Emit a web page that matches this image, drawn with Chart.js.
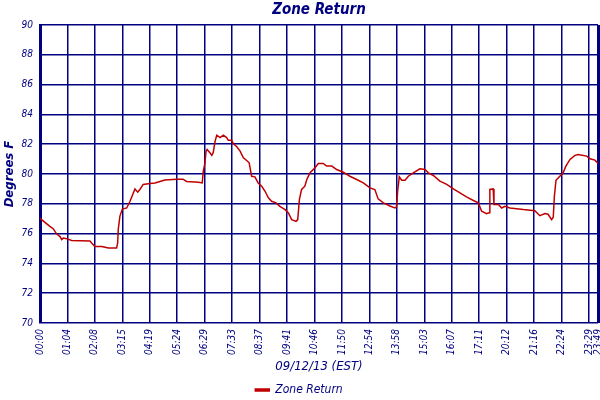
<!DOCTYPE html>
<html>
<head>
<meta charset="utf-8">
<script src="https://cdn.jsdelivr.net/npm/chart.js@4.4.1/dist/chart.umd.min.js"></script>
<style>
  html, body { margin: 0; padding: 0; background: #fff; }
  #wrap { width: 600px; height: 400px; }
</style>
</head>
<body>
<div id="wrap"><canvas id="zoneChart"></canvas></div>
<script>
// sample position (10 samples per labelled interval) and temperature
const sampleIdx = [0, 0.6, 1.8, 3.6, 4.8, 6.1, 7.3, 7.9, 8.5, 9.7, 11.5, 18.2, 18.8, 20.0, 22.5, 24.9, 27.9, 28.3, 28.5, 29.1,
    30.0, 31.6, 32.8, 34.0, 34.6, 35.6, 36.4, 37.6, 40.1, 41.9, 43.7, 45.5, 49.8, 52.1, 53.4, 57.7, 59.1, 59.5, 60.1, 60.5,
    60.9, 61.9, 62.6, 63.1, 63.8, 64.4, 65.6, 66.8, 68.0, 68.6, 69.8, 70.4, 71.7, 72.9, 74.1, 75.3, 76.2, 77.1, 78.3, 79.5,
    80.8, 82.0, 83.2, 84.4, 86.0, 87.4, 89.3, 90.5, 91.7, 93.3, 93.9, 94.5, 95.3, 96.5, 97.2, 98.4, 100.2, 101.4, 103.2, 104.4,
    106.3, 108.1, 110.5, 112.9, 115.4, 117.8, 120.2, 122.0, 123.2, 125.1, 127.5, 129.3, 129.9, 130.3, 130.9, 131.8, 133.0, 134.2, 136.0, 138.4,
    140.3, 141.5, 143.3, 145.7, 148.2, 150.6, 153.0, 155.4, 157.9, 159.7, 160.9, 162.7, 163.6, 163.9, 165.1, 165.4, 167.0, 168.2, 169.4, 171.2,
    176.1, 180.3, 182.1, 184.0, 185.1, 186.4, 187.0, 187.4, 188.0, 189.4, 190.6, 191.6, 193.1, 194.9, 196.1, 199.2, 200.4, 202.2, 203.3];
const tempF = [77.05, 76.94, 76.75, 76.49, 76.33, 75.97, 75.8, 75.6, 75.7, 75.66, 75.54, 75.5, 75.37, 75.14, 75.14, 75.03, 75.03, 75.37, 76.26, 77.16,
    77.65, 77.72, 78.17, 78.73, 79.0, 78.78, 78.96, 79.3, 79.36, 79.4, 79.5, 79.6, 79.65, 79.65, 79.5, 79.45, 79.4, 80.19, 80.75, 81.54,
    81.65, 81.43, 81.25, 81.43, 82.21, 82.6, 82.44, 82.6, 82.44, 82.26, 82.26, 82.05, 81.83, 81.54, 81.09, 80.91, 80.75, 79.85, 79.81, 79.4,
    79.18, 78.84, 78.4, 78.17, 78.06, 77.83, 77.61, 77.39, 76.94, 76.82, 76.94, 78.28, 78.96, 79.18, 79.63, 80.08, 80.42, 80.71, 80.71, 80.53,
    80.53, 80.3, 80.12, 79.85, 79.63, 79.4, 79.07, 78.96, 78.33, 78.06, 77.85, 77.72, 77.8, 78.84, 79.81, 79.58, 79.58, 79.85, 80.08, 80.35,
    80.3, 80.08, 79.9, 79.52, 79.3, 79.0, 78.73, 78.46, 78.22, 78.06, 77.5, 77.34, 77.4, 78.96, 79.0, 77.95, 77.95, 77.72, 77.83, 77.72,
    77.61, 77.54, 77.2, 77.34, 77.3, 76.94, 77.1, 78.5, 79.58, 79.85, 80.08, 80.53, 80.98, 81.25, 81.31, 81.2, 81.02, 80.93, 80.71];

// x axis labels and the sample positions they sit at
const timeLabels = ['00:00', '01:04', '02:08', '03:15', '04:19', '05:24', '06:29', '07:33', '08:37', '09:41', '10:46',
    '11:50', '12:54', '13:58', '15:03', '16:07', '17:11', '20:12', '21:16', '22:24', '23:29', '23:49'];
const tickIdx = [0, 10, 20, 30, 40, 50, 60, 70, 80, 90, 100, 110, 120, 130, 140, 150, 160, 170, 180, 190, 200, 203.3];

const navy = '#000080';
const red = '#c00000';
const condensed = '"DejaVu Sans Condensed", "DejaVu Sans", sans-serif';

const points = sampleIdx.map((x, i) => ({ x: x, y: tempF[i] }));

const ctx = document.getElementById('zoneChart').getContext('2d');
new Chart(ctx, {
    type: 'line',
    data: {
        datasets: [{
            label: 'Zone Return',
            data: points,
            borderColor: red,
            backgroundColor: red,
            borderWidth: 1.5,
            pointRadius: 0,
            tension: 0
        }]
    },
    options: {
        responsive: true,
        maintainAspectRatio: false,
        animation: false,
        // legend sits a little past the bottom edge so its text lands where the original has it
        layout: { padding: { left: 0, right: 2, top: 0, bottom: -6 } },
        plugins: {
            title: {
                display: true,
                text: 'Zone Return',
                color: navy,
                fullSize: false,
                font: { family: condensed, size: 15, weight: 'bold', style: 'italic' },
                padding: { top: 1, bottom: 6 }
            },
            legend: {
                position: 'bottom',
                labels: {
                    color: navy,
                    boxWidth: 14,
                    boxHeight: 2,
                    padding: 5,
                    font: { family: condensed, size: 12, style: 'italic' }
                }
            },
            tooltip: { enabled: false }
        },
        scales: {
            x: {
                type: 'linear',
                min: 0,
                max: 203.3,
                afterBuildTicks: scale => {
                    scale.ticks = tickIdx.map(v => ({ value: v }));
                },
                afterFit: scale => {
                    scale.height = 56;
                    scale.paddingRight = 0;
                },
                ticks: {
                    autoSkip: false,
                    minRotation: 90,
                    maxRotation: 90,
                    padding: 6,
                    color: navy,
                    font: { family: condensed, size: 10, style: 'italic' },
                    callback: (value, i) => timeLabels[i]
                },
                grid: {
                    color: navy,
                    drawTicks: false,
                    lineWidth: c => (c.index === tickIdx.length - 1 ? 3 : 1.5)
                },
                border: { display: false },
                title: {
                    display: true,
                    text: '09/12/13 (EST)',
                    color: navy,
                    font: { family: condensed, size: 13, style: 'italic' },
                    padding: { top: 2, bottom: 5 }
                }
            },
            y: {
                min: 70,
                max: 90,
                afterFit: scale => { scale.width = 40; },
                ticks: {
                    stepSize: 2,
                    padding: 7,
                    color: navy,
                    font: { family: condensed, size: 10, style: 'italic' }
                },
                grid: {
                    color: navy,
                    drawTicks: false,
                    lineWidth: 1.5
                },
                border: { color: navy, width: 3 },
                title: {
                    display: true,
                    text: 'Degrees F',
                    color: navy,
                    font: { family: condensed, size: 13, weight: 'bold', style: 'italic' },
                    padding: { top: 2, bottom: 2 }
                }
            }
        }
    }
});
</script>
</body>
</html>
